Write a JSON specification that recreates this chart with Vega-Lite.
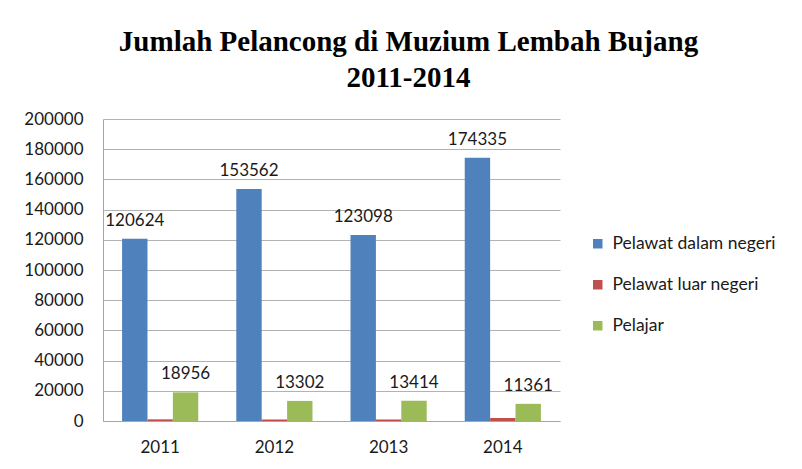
{
  "$schema": "https://vega.github.io/schema/vega-lite/v6.json",
  "width": 457,
  "height": 302,
  "autosize": {"type": "none"},
  "padding": {"left": 103, "top": 119, "right": 242, "bottom": 48},
  "background": "white",
  "title": {
    "text": ["Jumlah Pelancong di Muzium Lembah Bujang", "2011-2014"],
    "font": "Liberation Serif",
    "fontSize": 29,
    "fontWeight": "bold",
    "color": "#000000",
    "anchor": "middle",
    "dx": 77,
    "offset": 17,
    "lineHeight": 36
  },
  "data": {
    "values": [
      {"year": "2011", "series": "Pelawat dalam negeri", "value": 120624},
      {"year": "2011", "series": "Pelawat luar negeri", "value": 1100},
      {"year": "2011", "series": "Pelajar", "value": 18956},
      {"year": "2012", "series": "Pelawat dalam negeri", "value": 153562},
      {"year": "2012", "series": "Pelawat luar negeri", "value": 1000},
      {"year": "2012", "series": "Pelajar", "value": 13302},
      {"year": "2013", "series": "Pelawat dalam negeri", "value": 123098},
      {"year": "2013", "series": "Pelawat luar negeri", "value": 1000},
      {"year": "2013", "series": "Pelajar", "value": 13414},
      {"year": "2014", "series": "Pelawat dalam negeri", "value": 174335},
      {"year": "2014", "series": "Pelawat luar negeri", "value": 2000},
      {"year": "2014", "series": "Pelajar", "value": 11361}
    ]
  },
  "encoding": {
    "x": {
      "field": "year",
      "type": "nominal",
      "scale": {"paddingInner": 0.333, "paddingOuter": 0.167},
      "axis": {
        "title": null,
        "labelAngle": 0,
        "labelFont": "Lato",
        "labelFontSize": 17,
        "labelColor": "#1a1a1a",
        "labelPadding": 18,
        "ticks": false,
        "domainColor": "#a6a6a6",
        "grid": false
      }
    },
    "xOffset": {
      "field": "series",
      "type": "nominal",
      "scale": {"domain": ["Pelawat dalam negeri", "Pelawat luar negeri", "Pelajar"], "paddingInner": 0, "paddingOuter": 0}
    },
    "y": {
      "field": "value",
      "type": "quantitative",
      "scale": {"domain": [0, 200000], "nice": false},
      "axis": {
        "title": null,
        "values": [0, 20000, 40000, 60000, 80000, 100000, 120000, 140000, 160000, 180000, 200000],
        "format": "d",
        "labelFont": "Lato",
        "labelFontSize": 17,
        "labelColor": "#1a1a1a",
        "labelPadding": 20,
        "ticks": false,
        "domainColor": "#a6a6a6",
        "gridColor": "#b3b3b3",
        "grid": true
      }
    }
  },
  "layer": [
    {
      "mark": {"type": "bar"},
      "encoding": {
        "color": {
          "field": "series",
          "type": "nominal",
          "scale": {
            "domain": ["Pelawat dalam negeri", "Pelawat luar negeri", "Pelajar"],
            "range": ["#4F81BD", "#C0504D", "#9BBB59"]
          },
          "legend": {
            "title": null,
            "orient": "none",
            "legendX": 486,
            "legendY": 116,
            "symbolType": "square",
            "symbolSize": 90,
            "symbolStrokeWidth": 0,
            "labelFont": "Lato",
            "labelFontSize": 17.5,
            "labelColor": "#1a1a1a",
            "labelLimit": 300,
            "rowPadding": 22,
            "labelOffset": 6
          }
        }
      }
    },
    {
      "transform": [{"filter": "datum.series != 'Pelawat luar negeri'"}],
      "mark": {"type": "text", "baseline": "alphabetic", "dy": -13, "font": "Lato", "fontSize": 17, "color": "#1a1a1a"},
      "encoding": {
        "text": {"field": "value", "type": "quantitative", "format": "d"}
      }
    }
  ],
  "config": {
    "view": {"stroke": null}
  }
}
